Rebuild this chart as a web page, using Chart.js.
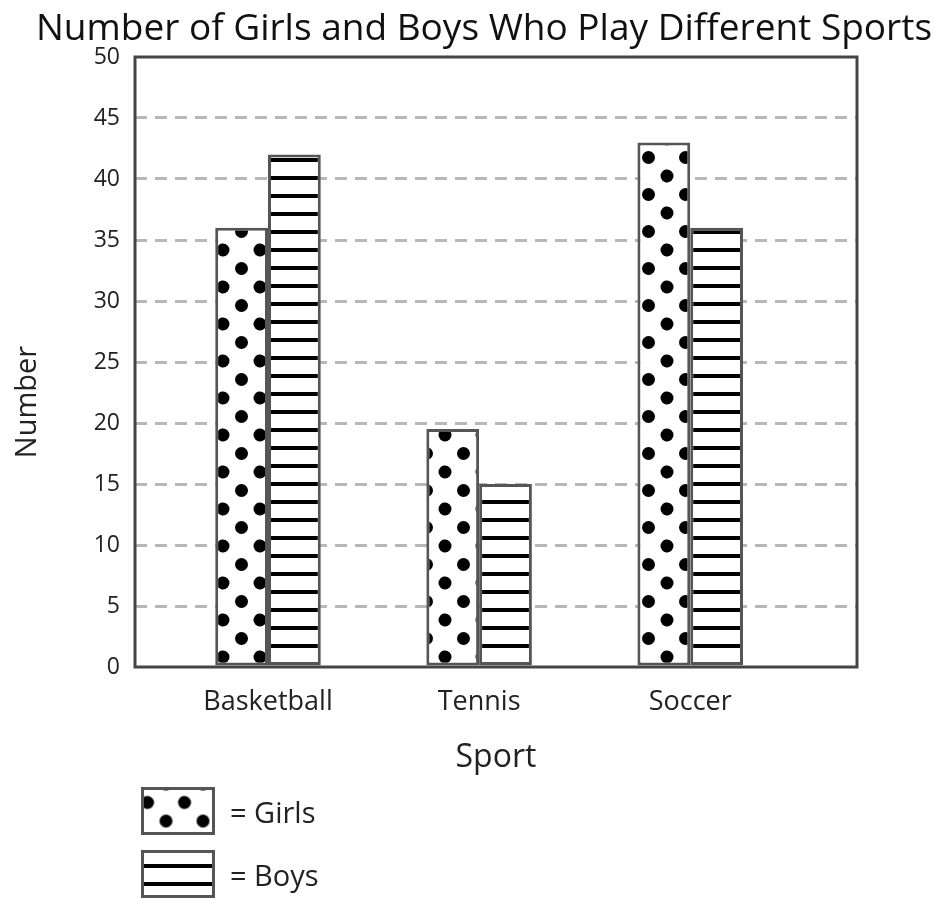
<!DOCTYPE html>
<html>
<head>
<meta charset="utf-8">
<script src="https://cdn.jsdelivr.net/npm/chart.js@4.4.1/dist/chart.umd.min.js"></script>
<style>
  html, body { margin: 0; padding: 0; background: #fff; }
  #wrap { position: relative; width: 938px; height: 899px; }
  #myChart { position: absolute; left: 0; top: 0; }
  #legend { position: absolute; left: 141px; top: 787px; font-family: 'Open Sans', sans-serif; font-size: 29px; color: #222; }
  .item { display: flex; align-items: center; height: 48px; margin-bottom: 15px; }
  .item canvas { margin-right: 15px; }
</style>
</head>
<body>
<div id="wrap">
  <canvas id="myChart" width="938" height="899"></canvas>
  <div id="legend"></div>
</div>
<script>
const sports = ['Basketball', 'Tennis', 'Soccer'];
const girls = [36, 19.5, 43];
const boys = [42, 15, 36];
const yTicks = [0, 5, 10, 15, 20, 25, 30, 35, 40, 45, 50];
const seriesNames = ['Girls', 'Boys'];
const chartTitle = 'Number of Girls and Boys Who Play Different Sports';
const xTitle = 'Sport';
const yTitle = 'Number';

const FONT = "'Open Sans', sans-serif";

// polka dots for girls
function dotPattern(ctx) {
    const c = document.createElement('canvas');
    c.width = 37; c.height = 37;
    const g = c.getContext('2d');
    g.fillStyle = '#fff';
    g.fillRect(0, 0, 37, 37);
    g.fillStyle = '#000';
    [[1, 28], [19.5, 9.5]].forEach(([x, y]) => {
        for (let dx = -37; dx <= 37; dx += 37) {
            for (let dy = -37; dy <= 37; dy += 37) {
                g.beginPath();
                g.arc(x + dx, y + dy, 6.5, 0, Math.PI * 2);
                g.fill();
            }
        }
    });
    return ctx.createPattern(c, 'repeat');
}

// horizontal stripes for boys
function stripePattern(ctx) {
    const c = document.createElement('canvas');
    c.width = 8; c.height = 18;
    const g = c.getContext('2d');
    g.fillStyle = '#fff';
    g.fillRect(0, 0, 8, 18);
    g.fillStyle = '#000';
    g.fillRect(0, 14, 8, 4);
    return ctx.createPattern(c, 'repeat');
}

const ctx = document.getElementById('myChart').getContext('2d');
const fills = [dotPattern(ctx), stripePattern(ctx)];

// box around the plot area
const frame = {
    id: 'frame',
    afterDatasetsDraw(chart) {
        const { ctx, chartArea: a } = chart;
        ctx.save();
        ctx.strokeStyle = '#444';
        ctx.lineWidth = 3;
        ctx.strokeRect(a.left, a.top, a.right - a.left, a.bottom - a.top);
        ctx.restore();
    }
};

// heading and the rotated y caption
const captions = {
    id: 'captions',
    afterDraw(chart) {
        const { ctx, chartArea: a } = chart;
        ctx.save();
        ctx.fillStyle = '#111';
        ctx.textAlign = 'center';
        ctx.textBaseline = 'middle';
        ctx.font = '37px ' + FONT;
        ctx.fillText(chartTitle, (a.left + a.right) / 2 - 12, 29);

        ctx.fillStyle = '#222';
        ctx.translate(28, (a.top + a.bottom) / 2 + 40);
        ctx.rotate(-Math.PI / 2);
        ctx.font = '29px ' + FONT;
        ctx.fillText(yTitle, 0, 0);
        ctx.restore();
    }
};

const myChart = new Chart(ctx, {
    type: 'bar',
    data: {
        datasets: [girls, boys].map((vals, k) => ({
            label: seriesNames[k],
            data: vals.map((v, i) => ({ x: i + 1, y: v })),
            backgroundColor: fills[k],
            borderColor: '#555',
            borderWidth: 3,
            borderSkipped: false,
            categoryPercentage: 0.5,
            barPercentage: 1
        }))
    },
    options: {
        responsive: false,
        animation: false,
        layout: { padding: { left: 0, right: 81, top: 57, bottom: 119 } },
        scales: {
            x: {
                type: 'linear',
                offset: false,
                min: 0.37,
                max: 3.79,
                grid: { display: false },
                border: { display: false },
                afterBuildTicks: scale => {
                    scale.ticks = sports.map((s, i) => ({ value: i + 1 }));
                },
                afterFit: scale => { scale.height = 113; },
                ticks: {
                    autoSkip: false,
                    maxRotation: 0,
                    padding: 11,
                    color: '#222',
                    font: { family: FONT, size: 27 },
                    callback: v => sports[v - 1]
                },
                title: {
                    display: true,
                    text: xTitle,
                    color: '#222',
                    font: { family: FONT, size: 32 },
                    padding: { top: 0, bottom: 3 }
                }
            },
            y: {
                min: 0,
                max: 50,
                afterBuildTicks: scale => {
                    scale.ticks = yTicks.map(v => ({ value: v }));
                },
                afterFit: scale => { scale.width = 135; },
                grid: {
                    drawTicks: false,
                    lineWidth: 3,
                    color: c => (c.tick && (c.tick.value === 0 || c.tick.value === 50)) ? 'rgba(0,0,0,0)' : '#b8b8b8'
                },
                border: { display: false, dash: [12, 8] },
                ticks: {
                    padding: 15,
                    color: '#222',
                    font: { family: FONT, size: 23 }
                }
            }
        },
        plugins: {
            legend: { display: false },
            tooltip: { enabled: false },
            title: { display: false }
        }
    },
    plugins: [frame, captions]
});

// legend below the chart, swatches filled with the same patterns
const legend = document.getElementById('legend');
seriesNames.forEach((name, k) => {
    const row = document.createElement('div');
    row.className = 'item';
    const sw = document.createElement('canvas');
    sw.width = 74; sw.height = 48;
    const g = sw.getContext('2d');
    g.save();
    if (k === 0) g.translate(5.5, 24.5);
    g.fillStyle = k === 0 ? dotPattern(g) : stripePattern(g);
    g.fillRect(-40, -40, 160, 130);
    g.restore();
    g.strokeStyle = '#555';
    g.lineWidth = 3;
    g.strokeRect(1.5, 1.5, 71, 45);
    row.appendChild(sw);
    const txt = document.createElement('span');
    txt.textContent = '= ' + name;
    row.appendChild(txt);
    legend.appendChild(row);
});
</script>
</body>
</html>
